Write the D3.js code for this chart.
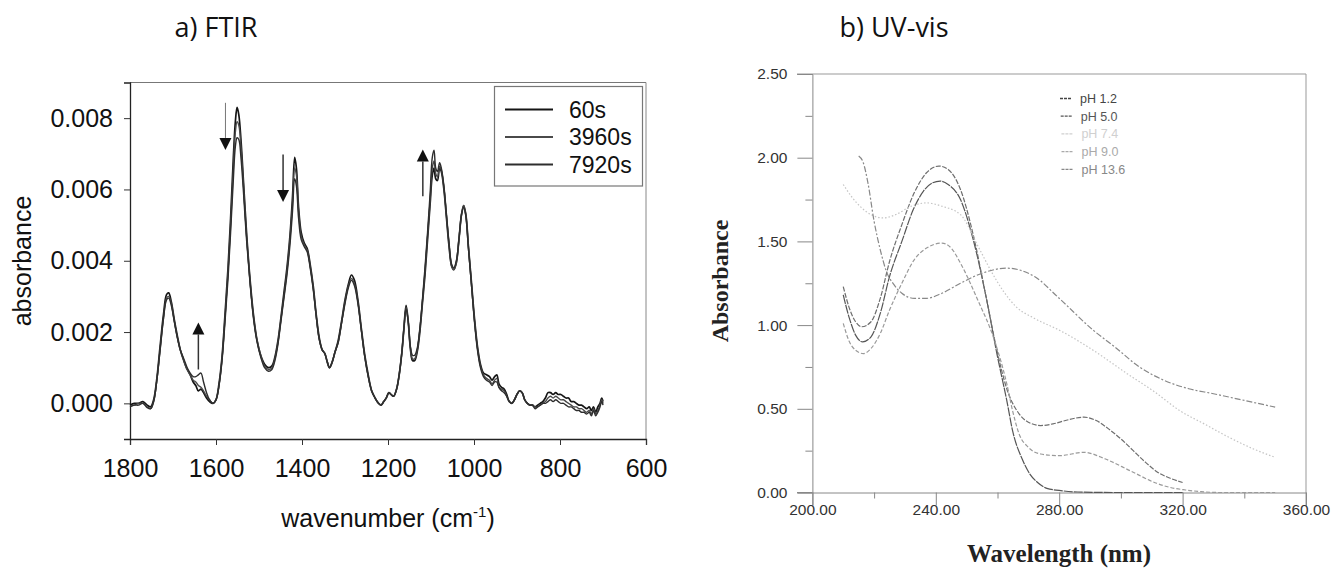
<!DOCTYPE html>
<html>
<head>
<meta charset="utf-8">
<title>FTIR and UV-vis spectra</title>
<script src="https://d3js.org/d3.v7.min.js"></script>
<style>
    body { margin: 0; background: #fff; }
    svg { display: block; }
    .sans { font-family: "Liberation Sans", Arial, sans-serif; }
    .serif { font-family: "Liberation Serif", "Times New Roman", serif; font-weight: bold; }
    .title { font-family: "Open Sans", sans-serif; }
</style>
</head>
<body>
<script>
// ---------- a) FTIR data ----------
const ftirWavenumber = [
    1800,1790,1780,1770,1760,1752,1745,1738,1730,1722,
    1715,1710,1704,1697,1690,1683,1675,1667,1660,1653,
    1647,1641,1635,1629,1622,1615,1607,1600,1593,1586,
    1579,1572,1566,1560,1555,1551,1547,1542,1536,1529,
    1521,1513,1505,1496,1487,1478,1470,1463,1456,1449,
    1442,1435,1428,1422,1417,1413,1408,1402,1395,1388,
    1381,1374,1367,1360,1353,1347,1341,1336,1330,1323,
    1316,1308,1300,1292,1285,1278,1270,1262,1254,1246,
    1238,1230,1222,1216,1210,1204,1198,1193,1187,1180,
    1174,1168,1163,1158,1153,1148,1143,1138,1132,1126,
    1120,1114,1108,1102,1097,1093,1089,1085,1080,1076,
    1070,1064,1058,1052,1047,1041,1035,1029,1024,1019,
    1013,1006,999,992,985,978,971,964,958,952,
    947,942,936,930,924,918,912,906,900,894,
    888,882,876,870,864,858,852,846,840,834,
    828,822,816,810,804,798,792,786,780,774,
    768,762,756,750,744,738,732,727,722,717,
    712,707,703,700
];
// absorbance, 60 s
const ftir60s = [
    -0.05e-3,0,0,0.05e-3,-0.05e-3,-0.1e-3,0.1e-3,0.65e-3,1.6e-3,2.5e-3,
    3.05e-3,3.1e-3,2.85e-3,2.35e-3,1.9e-3,1.5e-3,1.2e-3,0.95e-3,0.8e-3,0.6e-3,
    0.5e-3,0.35e-3,0.4e-3,0.3e-3,0.15e-3,0.05e-3,0,0.1e-3,0.55e-3,1.3e-3,
    2.5e-3,3.8e-3,5.2e-3,6.8e-3,7.9e-3,8.3e-3,8.1e-3,7.4e-3,6.2e-3,4.8e-3,
    3.5e-3,2.5e-3,1.8e-3,1.35e-3,1.1e-3,1.0e-3,1.05e-3,1.3e-3,1.75e-3,2.4e-3,
    3.1e-3,3.8e-3,4.7e-3,5.8e-3,6.9e-3,6.6e-3,5.5e-3,4.8e-3,4.5e-3,4.35e-3,
    3.9e-3,3.3e-3,2.5e-3,1.85e-3,1.5e-3,1.4e-3,1.15e-3,1.0e-3,1.15e-3,1.45e-3,
    1.75e-3,2.3e-3,2.9e-3,3.35e-3,3.6e-3,3.45e-3,2.9e-3,2.1e-3,1.35e-3,0.8e-3,
    0.35e-3,0.15e-3,0,-0.05e-3,0.05e-3,0.15e-3,0.3e-3,0.25e-3,0.2e-3,0.4e-3,
    0.8e-3,1.4e-3,2.1e-3,2.75e-3,2.3e-3,1.55e-3,1.2e-3,1.2e-3,1.45e-3,2.0e-3,
    2.8e-3,3.6e-3,4.6e-3,5.6e-3,6.4e-3,6.6e-3,6.3e-3,6.25e-3,6.6e-3,6.5e-3,
    6.0e-3,5.2e-3,4.4e-3,3.85e-3,3.75e-3,3.95e-3,4.6e-3,5.3e-3,5.55e-3,5.3e-3,
    4.4e-3,3.4e-3,2.4e-3,1.6e-3,1.1e-3,0.85e-3,0.8e-3,0.75e-3,0.65e-3,0.75e-3,
    0.8e-3,0.55e-3,0.45e-3,0.4e-3,0.25e-3,0.05e-3,0,0.1e-3,0.25e-3,0.35e-3,
    0.3e-3,0.1e-3,0,-0.05e-3,-0.05e-3,-0.1e-3,-0.05e-3,0,0.05e-3,0.15e-3,
    0.3e-3,0.3e-3,0.25e-3,0.3e-3,0.25e-3,0.25e-3,0.2e-3,0.15e-3,0.15e-3,0.05e-3,
    0.05e-3,0,-0.05e-3,-0.05e-3,-0.1e-3,-0.15e-3,-0.1e-3,-0.2e-3,-0.1e-3,-0.25e-3,
    -0.1e-3,0,0.15e-3,0.05e-3
];
// absorbance, 3960 s
const ftir3960s = [
    -0.08e-3,-0.05e-3,0,0,-0.1e-3,-0.15e-3,0.05e-3,0.6e-3,1.5e-3,2.4e-3,
    2.95e-3,3.0e-3,2.8e-3,2.3e-3,1.85e-3,1.5e-3,1.2e-3,0.95e-3,0.8e-3,0.65e-3,
    0.6e-3,0.5e-3,0.45e-3,0.35e-3,0.2e-3,0.1e-3,0,0.1e-3,0.5e-3,1.25e-3,
    2.4e-3,3.7e-3,5.0e-3,6.5e-3,7.6e-3,7.9e-3,7.8e-3,7.2e-3,6.1e-3,4.7e-3,
    3.45e-3,2.45e-3,1.8e-3,1.35e-3,1.05e-3,0.95e-3,1.0e-3,1.25e-3,1.7e-3,2.35e-3,
    3.0e-3,3.7e-3,4.6e-3,5.6e-3,6.6e-3,6.4e-3,5.4e-3,4.7e-3,4.45e-3,4.3e-3,
    3.85e-3,3.25e-3,2.45e-3,1.8e-3,1.5e-3,1.4e-3,1.15e-3,1.0e-3,1.15e-3,1.45e-3,
    1.7e-3,2.25e-3,2.85e-3,3.3e-3,3.5e-3,3.35e-3,2.85e-3,2.05e-3,1.3e-3,0.75e-3,
    0.35e-3,0.15e-3,0,-0.05e-3,0.05e-3,0.15e-3,0.3e-3,0.25e-3,0.2e-3,0.4e-3,
    0.8e-3,1.4e-3,2.1e-3,2.7e-3,2.3e-3,1.55e-3,1.25e-3,1.25e-3,1.5e-3,2.05e-3,
    2.85e-3,3.7e-3,4.7e-3,5.7e-3,6.6e-3,6.8e-3,6.45e-3,6.35e-3,6.65e-3,6.55e-3,
    6.05e-3,5.25e-3,4.45e-3,3.85e-3,3.75e-3,3.95e-3,4.6e-3,5.3e-3,5.55e-3,5.3e-3,
    4.4e-3,3.35e-3,2.35e-3,1.55e-3,1.05e-3,0.8e-3,0.7e-3,0.65e-3,0.55e-3,0.65e-3,
    0.7e-3,0.45e-3,0.4e-3,0.35e-3,0.2e-3,0.05e-3,0,0.1e-3,0.25e-3,0.35e-3,
    0.3e-3,0.1e-3,0,-0.05e-3,-0.05e-3,-0.1e-3,-0.1e-3,-0.05e-3,0,0.05e-3,
    0.15e-3,0.2e-3,0.15e-3,0.2e-3,0.15e-3,0.1e-3,0.1e-3,0.05e-3,0,-0.05e-3,
    -0.1e-3,-0.1e-3,-0.15e-3,-0.15e-3,-0.2e-3,-0.25e-3,-0.2e-3,-0.3e-3,-0.15e-3,-0.3e-3,
    -0.2e-3,-0.05e-3,0.1e-3,0
];
// absorbance, 7920 s
const ftir7920s = [
    -0.1e-3,-0.05e-3,-0.05e-3,0,-0.12e-3,-0.15e-3,0.05e-3,0.6e-3,1.5e-3,2.4e-3,
    2.9e-3,2.95e-3,2.75e-3,2.3e-3,1.85e-3,1.5e-3,1.25e-3,1.0e-3,0.85e-3,0.75e-3,
    0.75e-3,0.8e-3,0.85e-3,0.6e-3,0.3e-3,0.1e-3,0,0.1e-3,0.5e-3,1.2e-3,
    2.3e-3,3.5e-3,4.8e-3,6.2e-3,7.2e-3,7.45e-3,7.4e-3,6.9e-3,5.9e-3,4.6e-3,
    3.4e-3,2.4e-3,1.75e-3,1.3e-3,1.0e-3,0.9e-3,0.95e-3,1.2e-3,1.65e-3,2.3e-3,
    2.95e-3,3.6e-3,4.45e-3,5.4e-3,6.3e-3,6.1e-3,5.2e-3,4.6e-3,4.4e-3,4.25e-3,
    3.8e-3,3.2e-3,2.45e-3,1.8e-3,1.5e-3,1.4e-3,1.15e-3,1.0e-3,1.15e-3,1.45e-3,
    1.7e-3,2.25e-3,2.8e-3,3.25e-3,3.45e-3,3.3e-3,2.8e-3,2.05e-3,1.3e-3,0.75e-3,
    0.35e-3,0.15e-3,0,-0.05e-3,0.05e-3,0.15e-3,0.3e-3,0.25e-3,0.2e-3,0.4e-3,
    0.8e-3,1.4e-3,2.1e-3,2.65e-3,2.3e-3,1.6e-3,1.35e-3,1.35e-3,1.55e-3,2.1e-3,
    2.9e-3,3.8e-3,4.8e-3,5.9e-3,6.9e-3,7.1e-3,6.6e-3,6.5e-3,6.75e-3,6.6e-3,
    6.1e-3,5.3e-3,4.5e-3,3.9e-3,3.8e-3,4.0e-3,4.6e-3,5.3e-3,5.5e-3,5.25e-3,
    4.35e-3,3.35e-3,2.3e-3,1.5e-3,1.0e-3,0.75e-3,0.65e-3,0.6e-3,0.5e-3,0.6e-3,
    0.6e-3,0.45e-3,0.35e-3,0.3e-3,0.2e-3,0.05e-3,0,0.1e-3,0.25e-3,0.35e-3,
    0.3e-3,0.1e-3,0,-0.05e-3,-0.05e-3,-0.15e-3,-0.1e-3,-0.05e-3,0,0,
    0.05e-3,0.1e-3,0.05e-3,0.1e-3,0.05e-3,0,0,-0.05e-3,-0.1e-3,-0.1e-3,
    -0.15e-3,-0.2e-3,-0.2e-3,-0.25e-3,-0.25e-3,-0.3e-3,-0.25e-3,-0.35e-3,-0.2e-3,-0.35e-3,
    -0.25e-3,-0.1e-3,0.05e-3,-0.05e-3
];
const ftirLegend = ["60s", "3960s", "7920s"];
const ftirXTicks = [1800, 1600, 1400, 1200, 1000, 800, 600];
const ftirYTicks = [0, 0.002, 0.004, 0.006, 0.008];
// arrows: wavenumber, tail absorbance, head absorbance
const ftirArrowWn   = [1641, 1578, 1444, 1119];
const ftirArrowFrom = [0.00095, 0.00843, 0.00698, 0.00581];
const ftirArrowTo   = [0.00227, 0.00711, 0.00565, 0.00712];

// ---------- b) UV-vis data ----------
const uvLegend = ["pH 1.2", "pH 5.0", "pH 7.4", "pH 9.0", "pH 13.6"];
const uvWl_pH12 = [210,212,214,216.3,219,222,225,229,232.7,236,239,241.4,244,248,252,256.5,259.8,263,265,268,270.5,273,276,281,286,300,320];
const uvAbs_pH12 = [1.18,1.04,0.94,0.90,0.93,1.07,1.29,1.50,1.69,1.80,1.85,1.86,1.84,1.75,1.52,1.15,0.83,0.55,0.36,0.20,0.11,0.06,0.025,0.01,0.003,0,0];
const uvWl_pH50 = [210,212,214,216,219,222,225,229,233,237,241,244,248,252,256.5,259.8,263,267,270,274,278,282,288,292,296,300,304,308,312,316,320];
const uvAbs_pH50 = [1.23,1.10,1.02,0.99,1.02,1.16,1.38,1.60,1.79,1.91,1.95,1.93,1.81,1.55,1.15,0.85,0.62,0.47,0.42,0.40,0.41,0.43,0.45,0.43,0.38,0.32,0.25,0.18,0.12,0.085,0.06];
const uvWl_pH74 = [210,213,216,219,223,227,232,237,242,248,254,258,262,266,272,280,291,302,311,319,327,335,343,350];
const uvAbs_pH74 = [1.84,1.76,1.70,1.66,1.64,1.66,1.71,1.73,1.71,1.66,1.46,1.32,1.20,1.11,1.04,0.97,0.85,0.71,0.60,0.49,0.41,0.33,0.26,0.21];
const uvWl_pH90 = [210,212,214,216.5,219,222,225,229,233,237,242,245,248,253.6,259,263,265,267,270,274,280,288,295,303,311.6,316,321,326,332,340,350];
const uvAbs_pH90 = [1.01,0.90,0.85,0.83,0.86,0.95,1.09,1.25,1.39,1.46,1.49,1.46,1.37,1.15,0.91,0.65,0.48,0.35,0.27,0.23,0.22,0.24,0.20,0.13,0.055,0.03,0.015,0.005,0,0,0];
const uvWl_pH136 = [215,216.5,218,220,222,224,226.5,229,233,237,242,248,255,263,272,280,291,298,306,314,322,330,340,350];
const uvAbs_pH136 = [2.01,1.97,1.85,1.62,1.45,1.32,1.24,1.19,1.16,1.16,1.19,1.25,1.31,1.34,1.29,1.16,0.97,0.87,0.75,0.67,0.62,0.59,0.55,0.51];
const uvXTicks = [200, 240, 280, 320, 360];
const uvXMinor = [220, 260, 300, 340];
const uvYTicks = [0, 0.5, 1.0, 1.5, 2.0, 2.5];
const uvYMinor = [0.25, 0.75, 1.25, 1.75, 2.25];

const W = 1333, H = 572;
const svg = d3.select("body").append("svg").attr("width", W).attr("height", H);
svg.append("rect").attr("width", W).attr("height", H).attr("fill", "#fff");

// =================== panel a ===================
const ax = d3.scaleLinear().domain([1800, 600]).range([130, 646]);
const ay = d3.scaleLinear().domain([-0.001, 0.009]).range([439, 82.5]);

svg.append("text").attr("class", "title")
    .attr("x", 216).attr("y", 37).attr("text-anchor", "middle")
    .attr("font-size", 27).attr("fill", "#111").text("a) FTIR");

// frame
const ga = svg.append("g");
ga.append("line").attr("x1", 130).attr("x2", 646).attr("y1", 82.5).attr("y2", 82.5).attr("stroke", "#777").attr("stroke-width", 1.2);
ga.append("line").attr("x1", 646).attr("x2", 646).attr("y1", 82.5).attr("y2", 439).attr("stroke", "#888").attr("stroke-width", 1);

const axB = ga.append("g").attr("transform", "translate(0,439)")
    .call(d3.axisBottom(ax).tickValues(ftirXTicks).tickSize(6).tickPadding(14).tickFormat(d3.format("d")));
const axL = ga.append("g").attr("transform", "translate(130,0)")
    .call(d3.axisLeft(ay).tickValues(ftirYTicks).tickSize(6).tickPadding(11).tickFormat(d3.format(".3f")));
[axB, axL].forEach(g => {
    g.select(".domain").attr("stroke", "#222").attr("stroke-width", 1.3);
    g.selectAll(".tick line").attr("stroke", "#333");
    g.selectAll(".tick text").attr("class", "sans").attr("font-size", 25).attr("fill", "#111");
});
axB.selectAll(".tick text").attr("dy", "0.72em");

svg.append("text").attr("class", "sans")
    .attr("transform", "translate(31,261) rotate(-90)")
    .attr("text-anchor", "middle").attr("font-size", 25).attr("fill", "#111")
    .text("absorbance");
const xl = svg.append("text").attr("class", "sans")
    .attr("x", 388).attr("y", 527).attr("text-anchor", "middle")
    .attr("font-size", 25).attr("fill", "#111");
xl.append("tspan").text("wavenumber (cm");
xl.append("tspan").attr("font-size", 15).attr("dy", -10).text("-1");
xl.append("tspan").attr("dy", 10).text(")");

// spectra
const ftirSeries = [ftir60s, ftir3960s, ftir7920s];
const ftirColors = ["#151515", "#4a4a4a", "#2e2e2e"];
const ftirLine = d3.line().x(d => ax(d[0])).y(d => ay(d[1])).curve(d3.curveCatmullRom.alpha(0.5));
ftirSeries.forEach((s, i) => {
    svg.append("path")
        .datum(ftirWavenumber.map((w, j) => [w, s[j]]))
        .attr("d", ftirLine)
        .attr("fill", "none")
        .attr("stroke", ftirColors[i])
        .attr("stroke-width", i === 0 ? 1.7 : 1.4)
        .attr("stroke-linejoin", "round");
});

// arrows
ftirArrowWn.forEach((w, i) => {
    const x = ax(w), y0 = ay(ftirArrowFrom[i]), y1 = ay(ftirArrowTo[i]);
    const dir = y1 < y0 ? -1 : 1;
    const headLen = 12;
    svg.append("line").attr("x1", x).attr("x2", x)
        .attr("y1", y0).attr("y2", y1 - dir * headLen)
        .attr("stroke", i === 1 ? "#777" : "#333").attr("stroke-width", i === 1 ? 1 : 1.5);
    svg.append("path")
        .attr("d", `M${x},${y1} L${x - 6},${y1 - dir * headLen} L${x + 6},${y1 - dir * headLen} Z`)
        .attr("fill", "#111");
});

// legend
const lg = svg.append("g");
lg.append("rect").attr("x", 494.5).attr("y", 86.5).attr("width", 148).attr("height", 99.5)
    .attr("fill", "#fff").attr("stroke", "#777").attr("stroke-width", 1.2);
ftirLegend.forEach((t, i) => {
    const yy = 109.5 + i * 27.5;
    lg.append("line").attr("x1", 505).attr("x2", 553).attr("y1", yy).attr("y2", yy)
        .attr("stroke", ftirColors[i]).attr("stroke-width", 1.8);
    lg.append("text").attr("class", "sans").attr("x", 569).attr("y", yy + 8)
        .attr("font-size", 23).attr("fill", "#111").text(t);
});

// =================== panel b ===================
const bx = d3.scaleLinear().domain([200, 360]).range([812.4, 1306]);
const by = d3.scaleLinear().domain([0, 2.5]).range([492.5, 74]);

svg.append("text").attr("class", "title")
    .attr("x", 894).attr("y", 37).attr("text-anchor", "middle")
    .attr("font-size", 27).attr("fill", "#111").text("b) UV-vis");

const gb = svg.append("g");
// frame: top and right
gb.append("line").attr("x1", 797).attr("x2", 1306).attr("y1", 74).attr("y2", 74).attr("stroke", "#999").attr("stroke-width", 1);
gb.append("line").attr("x1", 1306).attr("x2", 1306).attr("y1", 74).attr("y2", 505).attr("stroke", "#999").attr("stroke-width", 1);

const bxAxis = gb.append("g").attr("transform", "translate(0,492.5)")
    .call(d3.axisBottom(bx).tickValues(uvXTicks).tickSize(13).tickPadding(8).tickFormat(d3.format(".2f")));
gb.append("g").attr("transform", "translate(0,492.5)")
    .call(d3.axisBottom(bx).tickValues(uvXMinor).tickSize(6).tickFormat(""))
    .call(g => g.select(".domain").remove());
const byAxis = gb.append("g").attr("transform", "translate(812.4,0)")
    .call(d3.axisLeft(by).tickValues(uvYTicks).tickSize(15).tickPadding(10).tickFormat(d3.format(".2f")));
gb.append("g").attr("transform", "translate(812.4,0)")
    .call(d3.axisLeft(by).tickValues(uvYMinor).tickSize(7).tickFormat(""))
    .call(g => g.select(".domain").remove());
gb.selectAll(".domain").attr("stroke", "#888").attr("stroke-width", 1);
gb.selectAll(".tick line").attr("stroke", "#888");
gb.selectAll(".tick text").attr("class", "sans").attr("font-size", 15.5).attr("fill", "#333");
// x axis line reaches left to the tick stubs
gb.append("line").attr("x1", 797).attr("x2", 812.4).attr("y1", 492.5).attr("y2", 492.5).attr("stroke", "#888");
bxAxis.selectAll(".tick text").attr("dy", "0.1em");

svg.append("text").attr("class", "serif")
    .attr("transform", "translate(728,281) rotate(-90)")
    .attr("text-anchor", "middle").attr("font-size", 24).attr("fill", "#222")
    .text("Absorbance");
svg.append("text").attr("class", "serif")
    .attr("x", 1059).attr("y", 562).attr("text-anchor", "middle")
    .attr("font-size", 25).attr("fill", "#222")
    .text("Wavelength (nm)");

const uvWl = [uvWl_pH12, uvWl_pH50, uvWl_pH74, uvWl_pH90, uvWl_pH136];
const uvAbs = [uvAbs_pH12, uvAbs_pH50, uvAbs_pH74, uvAbs_pH90, uvAbs_pH136];
const uvColors = ["#555", "#6e6e6e", "#c4c4c4", "#9a9a9a", "#888"];
const uvDash = ["9,1", "5,1.5", "1.5,2", "4,2", "6,2,2,2"];
const uvLine = d3.line().x(d => bx(d[0])).y(d => by(d[1])).curve(d3.curveMonotoneX);
uvWl.forEach((wl, i) => {
    svg.append("path")
        .datum(wl.map((w, j) => [w, uvAbs[i][j]]))
        .attr("d", uvLine)
        .attr("fill", "none")
        .attr("stroke", uvColors[i])
        .attr("stroke-width", 1.2)
        .attr("stroke-dasharray", uvDash[i]);
});

// legend
const legTextColors = ["#444", "#555", "#d0d0d0", "#aaa", "#888"];
uvLegend.forEach((t, i) => {
    const yy = 98.5 + i * 17.7;
    const x0 = 1060 + (i > 2 ? 1.5 : i * 0.7);
    svg.append("line").attr("x1", x0).attr("x2", x0 + 12).attr("y1", yy).attr("y2", yy)
        .attr("stroke", legTextColors[i]).attr("stroke-width", 1.3).attr("stroke-dasharray", "3,1");
    svg.append("text").attr("class", "sans").attr("x", x0 + 20).attr("y", yy + 4.5)
        .attr("font-size", 12.5).attr("fill", legTextColors[i]).text(t);
});
</script>
</body>
</html>
